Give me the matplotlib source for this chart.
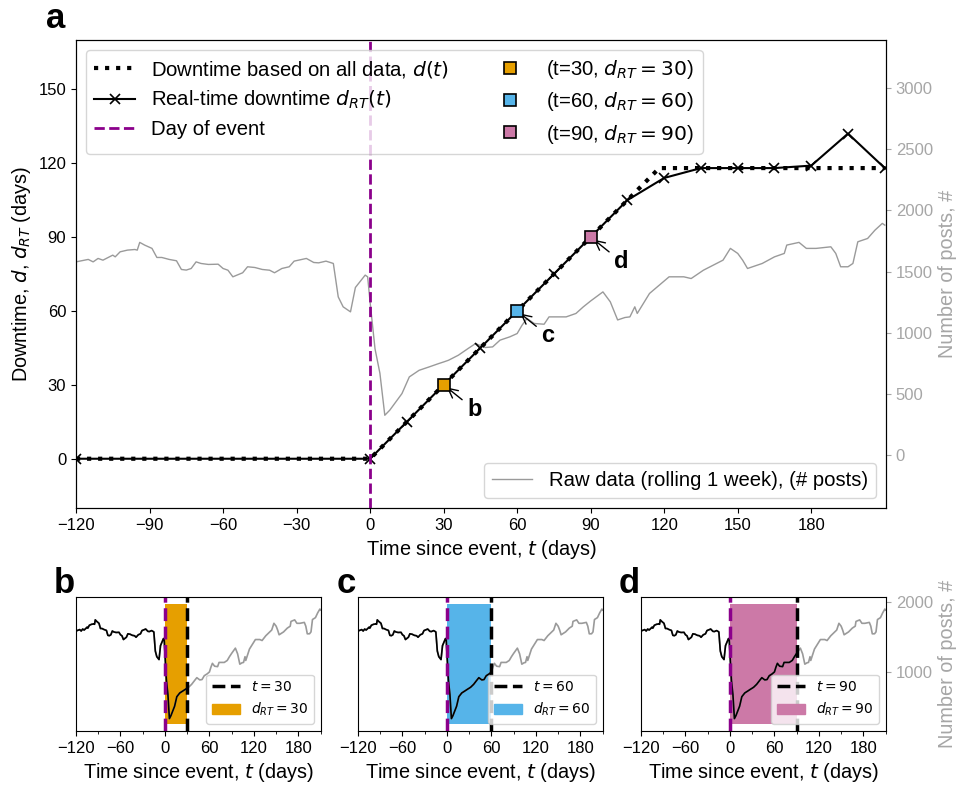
import numpy as np
import matplotlib
matplotlib.use("agg")
import matplotlib.pyplot as plt
from matplotlib.lines import Line2D
from matplotlib.patches import Patch
from matplotlib.ticker import MultipleLocator
from matplotlib import rcParams

rcParams['font.family'] = ['Liberation Sans', 'DejaVu Sans']
rcParams['xtick.labelsize'] = 12
rcParams['ytick.labelsize'] = 12
rcParams['axes.labelsize'] = 14.3

# raw posts (rolling 1 week)
raw_t = [-120, -115, -113, -111, -109, -105, -104, -102, -99, -96, -95, -94, -92, -89,
         -87, -85, -82, -79, -77, -75, -73, -71, -69, -66, -62, -60, -58, -56, -52,
         -50, -47, -44, -41, -39, -36, -33, -31, -26, -23, -21, -18, -15, -14, -13,
         -11, -8, -6, -2, -1, 0, 2, 4, 6, 8, 9, 13, 16, 20, 24, 28, 30, 32, 36, 40,
         43, 47, 50, 53, 57, 60, 62, 64, 67, 71, 73, 77, 80, 84, 87, 90, 95, 98, 101,
         104, 106, 108, 109, 114, 122, 128, 131, 136, 140, 144, 147, 150, 152, 154,
         160, 165, 169, 170, 175, 178, 182, 188, 190, 192, 195, 197, 199, 203, 206,
         209, 210]
raw_posts = [1579, 1599, 1579, 1607, 1593, 1634, 1620, 1661, 1675, 1680, 1675, 1738, 1716, 1689,
             1615, 1615, 1599, 1588, 1517, 1512, 1525, 1579, 1566, 1558, 1560, 1525, 1511, 1457, 1490,
             1539, 1533, 1517, 1511, 1490, 1525, 1539, 1585, 1607, 1574, 1571, 1585, 1566, 1430, 1293,
             1212, 1171, 1370, 1471, 1457, 1250, 870, 670, 327, 368, 395, 504, 640, 694, 721, 749, 762, 776, 817, 872,
             912, 880, 885, 940, 967, 994, 1062, 1117, 1076, 1070, 1130, 1130, 1130, 1158, 1212, 1260, 1334, 1253, 1105,
             1125, 1130, 1212, 1158, 1321, 1457, 1457, 1443, 1511, 1552, 1593, 1689, 1648, 1593, 1525,
             1566, 1620, 1648, 1716, 1738, 1689, 1689, 1702, 1648, 1539, 1539, 1566, 1743, 1770, 1838,
             1893, 1879]

# downtime based on all data
d_t = [-120, 0, 118, 210]
d_all = [0, 0, 118, 118]

# real-time downtime
rt_t = [-120, 0, 15, 30, 45, 60, 75, 90, 105, 120, 135, 150, 165, 180, 195, 210]
rt_d = [0, 0, 15, 30, 45, 60, 75, 90, 105, 114, 118, 118, 118, 119, 132, 118]

snap_t = [30, 60, 90]
snap_d = [30, 60, 90]
snap_colors = ['#E69F00', '#56B4E9', '#CC79A7']
snap_letters = ['b', 'c', 'd']

purple = '#8B008B'
grey_line = '#9a9a9a'
grey_text = '#a6a6a6'

fig = plt.figure(figsize=(9.62, 7.86), dpi=100)

# ---------------- panel a
ax = fig.add_axes([76/962, 1-508/786, 810/962, 468/786])
ax2 = ax.twinx()
ax.set_zorder(ax2.get_zorder() + 1)
ax.patch.set_visible(False)

raw_line, = ax2.plot(raw_t, raw_posts, color=grey_line, lw=1)
ax2.set_ylim(-430, 3390)
ax2.set_yticks(range(0, 3001, 500))
ax2.tick_params(axis='y', colors=grey_text)
ax2.set_ylabel("Number of posts, #", color=grey_text, fontsize=14.3)

h_all, = ax.plot(d_t, d_all, color='k', ls=':', lw=3)
h_rt, = ax.plot(rt_t, rt_d, color='k', lw=1.5, marker='x', ms=7, mew=1.2)
h_ev = ax.axvline(0, color=purple, ls='--', lw=2)

snap_handles = []
for t, d, c, lt in zip(snap_t, snap_d, snap_colors, snap_letters):
    h, = ax.plot([t], [d], ls='none', marker='s', ms=8.5, mfc=c, mec='k', mew=1.2, zorder=5)
    snap_handles.append(h)
    ax.annotate(lt, xy=(t, d), xytext=(t + 12.5, d - 10), ha='center', va='center',
                fontsize=17, fontweight='bold',
                arrowprops=dict(arrowstyle='->', color='k', lw=1, shrinkA=2, shrinkB=3))

ax.set_xlim(-120, 210.5)
ax.set_ylim(-20, 170)
ax.set_xticks(range(-120, 181, 30))
ax.set_yticks(range(0, 151, 30))
ax.set_xlabel("Time since event, $t$ (days)")
ax.set_ylabel("Downtime, $d$, $d_{RT}$ (days)")

labels = ["Downtime based on all data, $d(t)$", "Real-time downtime $d_{RT}(t)$", "Day of event"]
labels += ["(t=%d, $d_{RT} = %d$)" % (t, d) for t, d in zip(snap_t, snap_d)]
leg1 = ax.legend([h_all, h_rt, h_ev] + snap_handles, labels, loc='upper left', ncol=2,
                 fontsize=14.6, framealpha=0.8, columnspacing=2.0, labelspacing=0.45)
ax.add_artist(leg1)
ax.legend([raw_line], ["Raw data (rolling 1 week), (# posts)"], loc='lower right', fontsize=14.6)

fig.text(56/962, 1-28/786, 'a', fontsize=25, fontweight='bold', ha='center', va='baseline')

# ---------------- panels b, c, d
lefts = [76, 358, 641]
raw_t_arr = np.array(raw_t)
raw_p_arr = np.array(raw_posts)
for i, (left, t_snap, c, lt) in enumerate(zip(lefts, snap_t, snap_colors, snap_letters)):
    axb = fig.add_axes([left/962, 1-731/786, 245/962, 134/786])
    axb.plot(raw_t, raw_posts, color=grey_line, lw=1.2)
    m = raw_t_arr <= t_snap
    axb.plot(raw_t_arr[m], raw_p_arr[m], color='k', lw=1.2)
    axb.axvspan(0, t_snap, ymin=0.05, ymax=0.95, color=c, lw=0)
    axb.axvline(0, color=purple, ls='--', lw=2.5)
    axb.axvline(t_snap, color='k', ls='--', lw=2.5)
    axb.set_xlim(-120, 210.5)
    axb.set_ylim(150, 2065)
    axb.set_xticks(range(-120, 181, 60))
    axb.xaxis.set_minor_locator(MultipleLocator(30))
    axb.set_xlabel("Time since event, $t$ (days)")
    if i == 2:
        axb.yaxis.tick_right()
        axb.yaxis.set_label_position('right')
        axb.set_yticks([1000, 2000])
        axb.tick_params(axis='y', colors=grey_text)
        axb.set_ylabel("Number of posts, #", color=grey_text, fontsize=14.3)
    else:
        axb.set_yticks([])
    hl = Line2D([], [], color='k', ls='--', lw=2.5)
    hp = Patch(color=c)
    axb.legend([hl, hp], ["$t = %d$" % t_snap, "$d_{RT} = %d$" % t_snap],
               loc='lower right', fontsize=10, framealpha=0.8)
    fig.text((left - 12)/962, 1-593/786, lt, fontsize=25, fontweight='bold',
             ha='center', va='baseline')

plt.savefig("out.png", dpi=100)
plt.close(fig)
